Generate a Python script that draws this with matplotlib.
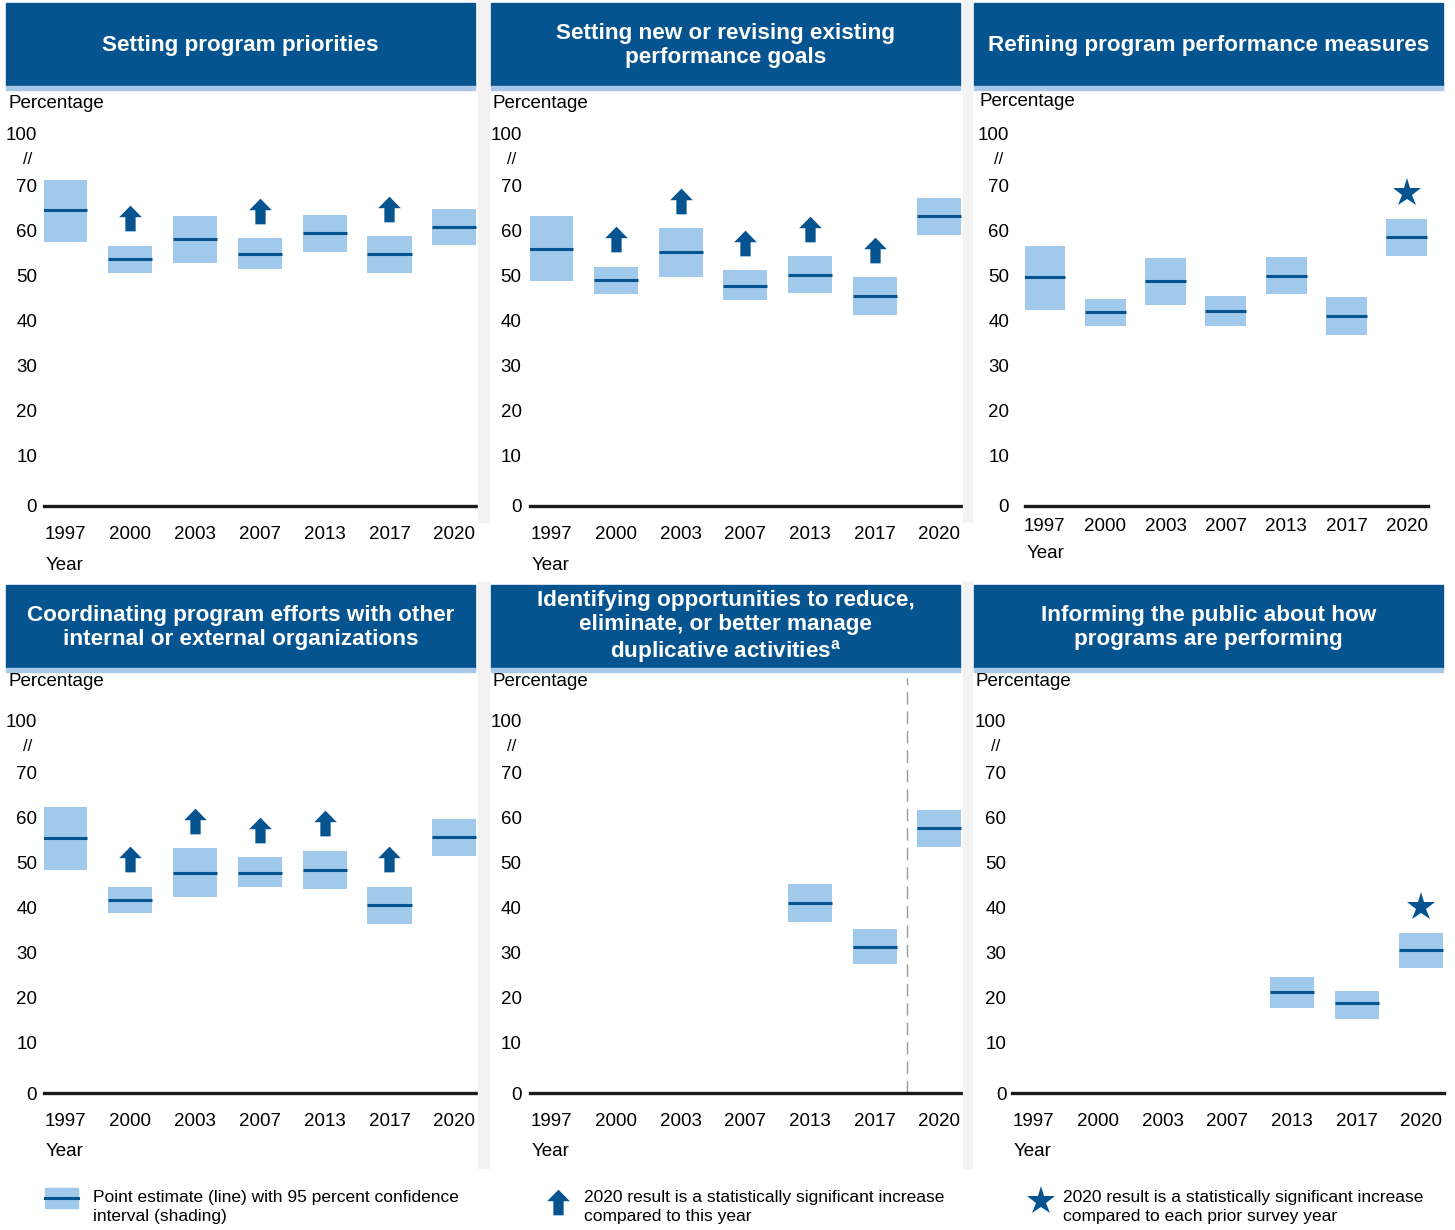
import numpy as np
import matplotlib.pyplot as plt
from matplotlib.path import Path
from matplotlib.patches import Rectangle

# Survey years (categories)
years = ["1997", "2000", "2003", "2007", "2013", "2017", "2020"]

titles = [
    "Setting program priorities",
    "Setting new or revising existing\nperformance goals",
    "Refining program performance measures",
    "Coordinating program efforts with other\ninternal or external organizations",
    "Identifying opportunities to reduce,\neliminate, or better manage\nduplicative activities$^{\\mathregular{a}}$",
    "Informing the public about how\nprograms are performing",
]

# point estimates, lower and upper 95% CI bounds (percent)
est_priorities = [64.5, 53.7, 58.1, 54.9, 59.4, 54.8, 60.9]
lo_priorities = [57.5, 50.6, 52.8, 51.4, 55.3, 50.6, 56.8]
hi_priorities = [71.2, 56.6, 63.3, 58.3, 63.4, 58.8, 64.8]

est_goals = [56.0, 49.1, 55.2, 47.8, 50.2, 45.4, 63.2]
lo_goals = [48.9, 46.0, 49.7, 44.5, 46.1, 41.2, 59.1]
hi_goals = [63.3, 52.0, 60.5, 51.2, 54.3, 49.6, 67.2]

est_measures = [49.7, 42.0, 48.8, 42.2, 50.0, 41.1, 58.5]
lo_measures = [42.3, 38.9, 43.4, 38.8, 45.9, 36.8, 54.3]
hi_measures = [56.6, 44.9, 54.0, 45.4, 54.2, 45.2, 62.6]

est_coord = [55.4, 41.8, 47.8, 47.8, 48.3, 40.5, 55.7]
lo_coord = [48.3, 38.8, 42.4, 44.6, 44.1, 36.3, 51.5]
hi_coord = [62.4, 44.6, 53.2, 51.2, 52.6, 44.6, 59.8]

est_dup = [np.nan, np.nan, np.nan, np.nan, 41.0, 31.3, 57.6]
lo_dup = [np.nan, np.nan, np.nan, np.nan, 36.8, 27.4, 53.5]
hi_dup = [np.nan, np.nan, np.nan, np.nan, 45.2, 35.2, 61.7]

est_public = [np.nan, np.nan, np.nan, np.nan, 21.3, 18.8, 30.6]
lo_public = [np.nan, np.nan, np.nan, np.nan, 17.8, 15.2, 26.5]
hi_public = [np.nan, np.nan, np.nan, np.nan, 24.6, 21.5, 34.4]

# years where 2020 is significantly higher (arrow), and panels with a star on 2020
arrows_priorities = ["2000", "2007", "2017"]
arrows_goals = ["2000", "2003", "2007", "2013", "2017"]
arrows_coord = ["2000", "2003", "2007", "2013", "2017"]
star_measures = True
star_public = True

panels = [
    (est_priorities, lo_priorities, hi_priorities, arrows_priorities, False),
    (est_goals, lo_goals, hi_goals, arrows_goals, False),
    (est_measures, lo_measures, hi_measures, [], star_measures),
    (est_coord, lo_coord, hi_coord, arrows_coord, False),
    (est_dup, lo_dup, hi_dup, [], False),
    (est_public, lo_public, hi_public, [], star_public),
]

DARK = "#05538f"
LIGHT = "#a0c9eb"
W, H = 1455, 1230
FS = 13.5
plt.rcParams["font.family"] = ["Liberation Sans", "DejaVu Sans"]

fig = plt.figure(figsize=(W / 100, H / 100), dpi=100)


def fx(x):
    return x / W


def fy(y):
    return 1 - y / H


# block arrow marker
arrow = Path([(-0.2, -0.5), (0.2, -0.5), (0.2, 0.05), (0.44, 0.05), (0.0, 0.5),
              (-0.44, 0.05), (-0.2, 0.05), (-0.2, -0.5)],
             [Path.MOVETO] + [Path.LINETO] * 6 + [Path.CLOSEPOLY])

# light grey separators between panels
for x0, x1 in [(478, 489), (963, 972)]:
    for y0, y1 in [(0, 522), (582, 1168)]:
        fig.patches.append(Rectangle((fx(x0), fy(y1)), fx(x1 - x0), (y1 - y0) / H,
                                     transform=fig.transFigure, color="#f2f2f2", zorder=0))

# header boxes
head_x = [(6, 475), (491, 960), (974, 1443)]
head_y = [(3, 86), (585, 668)]
for i, t in enumerate(titles):
    r, c = divmod(i, 3)
    x0, x1 = head_x[c]
    y0, y1 = head_y[r]
    fig.patches.append(Rectangle((fx(x0), fy(y1)), fx(x1 - x0), (y1 - y0) / H,
                                 transform=fig.transFigure, color=DARK, zorder=1))
    fig.patches.append(Rectangle((fx(x0), fy(y1 + 4)), fx(x1 - x0), 4 / H,
                                 transform=fig.transFigure, color="#a9c8e6", zorder=1))
    fig.text(fx((x0 + x1) / 2), fy((y0 + y1) / 2 + 1), t, color="white", fontsize=16.2,
             fontweight="bold", ha="center", va="center", linespacing=1.15, zorder=2)

# axes geometry: (left px, right px) per panel, plus label offsets
ax_x = [(44, 477), (530, 962), (1025, 1428), (44, 477), (530, 962), (1012, 1444)]
row_bottom = [506, 1093]
YMIN, YMAX = -1.2, 85
pct_pos = [(8, 103), (493, 103), (979, 101), (8, 682), (493, 682), (976, 682)]
ylab_pad = [5, 6, 11.5, 5, 6, 4]
slash_off = [-12, -13, -19, -12, -13, -12]
year_pad = [14.5, 14.5, 8.5, 14.5, 14.5, 14.5]
year_lab_y = [565, 566, 553, 1152, 1152, 1152]

xs = np.arange(len(years))
for i, (est, lo, hi, arr, star) in enumerate(panels):
    r = i // 3
    left, right = ax_x[i]
    bot = row_bottom[r]
    top = bot - (YMAX - YMIN) * 4.5
    ax = fig.add_axes([fx(left), fy(bot), fx(right - left), (bot - top) / H])
    ax.set_xlim(-0.33, 6.35)
    ax.set_ylim(YMIN, YMAX)
    for s in ax.spines.values():
        s.set_visible(False)
    ax.patch.set_alpha(0)

    est = np.array(est)
    lo = np.array(lo)
    hi = np.array(hi)
    ax.bar(xs, hi - lo, bottom=lo, width=0.68, color=LIGHT, edgecolor="none", zorder=2)
    ax.hlines(est, xs - 0.34, xs + 0.34, color=DARK, lw=2.2, zorder=3)

    for y in arr:
        k = years.index(y)
        ax.plot(k, hi[k] + 6.1, marker=arrow, markersize=18.5, color=DARK,
                markeredgewidth=0, zorder=4)
    if star:
        ax.plot(6, hi[6] + 5.7, marker="*", markersize=21, color=DARK,
                markeredgewidth=0, zorder=4)

    ax.axhline(YMIN, color="#1a1a1a", lw=2.4, zorder=5, clip_on=False)
    ax.set_yticks([YMIN, 10, 20, 30, 40, 50, 60, 70, 81.5])
    ax.set_yticklabels(["0", "10", "20", "30", "40", "50", "60", "70", "100"])
    ax.set_xticks(xs)
    ax.set_xticklabels(years)
    ax.tick_params(axis="y", length=0, pad=ylab_pad[i], labelsize=FS)
    ax.tick_params(axis="x", length=0, pad=year_pad[i], labelsize=FS)
    ax.annotate("//", xy=(0, 75.7), xycoords=("axes fraction", "data"),
                xytext=(slash_off[i], 0), textcoords="offset points",
                ha="center", va="center", fontsize=12)

    if i == 4:
        # dashed divider between 2017 and 2020 (question wording changed)
        ax.plot([5.5, 5.5], [YMIN, 91], color="#9a9a9a", lw=1, dashes=(9, 5),
                zorder=1, clip_on=False)

    fig.text(fx(pct_pos[i][0]), fy(pct_pos[i][1]), "Percentage", fontsize=FS,
             ha="left", va="center")
    fig.text(fx(left + 2), fy(year_lab_y[i]), "Year", fontsize=FS, ha="left", va="center")

# legend along the bottom
fig.patches.append(Rectangle((fx(45), fy(1208)), fx(33), 20 / H,
                             transform=fig.transFigure, color=LIGHT, zorder=1))
fig.lines.append(plt.Line2D([fx(45), fx(78)], [fy(1198), fy(1198)],
                            transform=fig.transFigure, color=DARK, lw=2.2, zorder=2))
fig.lines.append(plt.Line2D([fx(558)], [fy(1202)], transform=fig.transFigure,
                            marker=arrow, markersize=18.5, color=DARK, markeredgewidth=0))
fig.lines.append(plt.Line2D([fx(1041)], [fy(1201)], transform=fig.transFigure,
                            marker="*", markersize=21, color=DARK, markeredgewidth=0))
legend_txt = [
    (93, "Point estimate (line) with 95 percent confidence\ninterval (shading)"),
    (584, "2020 result is a statistically significant increase\ncompared to this year"),
    (1063, "2020 result is a statistically significant increase\ncompared to each prior survey year"),
]
for x, t in legend_txt:
    fig.text(fx(x), fy(1207), t, fontsize=12.5, ha="left", va="center", linespacing=1.4)

fig.savefig("out.png", dpi=100, facecolor="white")
